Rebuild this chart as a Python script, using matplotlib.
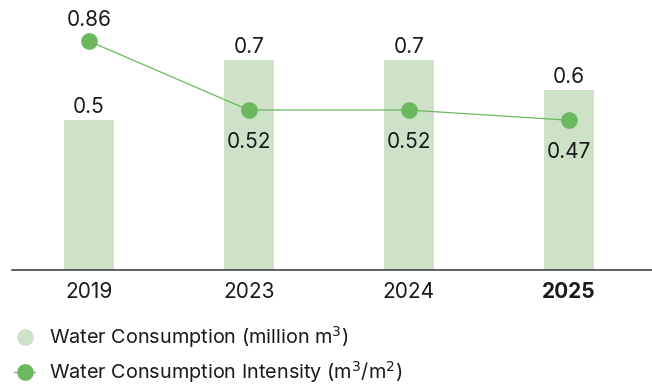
import matplotlib.pyplot as plt
from matplotlib.lines import Line2D

plt.rcParams['font.family'] = ['Inter', 'DejaVu Sans']

years = ['2019', '2023', '2024', '2025']
consumption = [0.5, 0.7, 0.7, 0.6]          # million m3
intensity = [0.86, 0.52, 0.52, 0.47]        # m3/m2

bar_color = '#cde2c6'
line_color = '#6bb85f'
text_color = '#1a1a1a'
fs = 15

fig = plt.figure(figsize=(6.52, 3.85), dpi=100)
ax = fig.add_axes([12 / 652, 1 - 270 / 385, 640 / 652, 260 / 385])

x = list(range(len(years)))
ax.bar(x, consumption, width=0.31, color=bar_color, zorder=1)
for xi, v in zip(x, consumption):
    ax.annotate(f'{v:g}', (xi, v), xytext=(0, 2), textcoords='offset points',
                ha='center', va='bottom', fontsize=fs, color=text_color)

ax.set_xlim(-0.48, 3.52)
ax.set_ylim(0, 260 / 300)
ax.set_yticks([])
for s in ['top', 'right', 'left']:
    ax.spines[s].set_visible(False)
ax.spines['bottom'].set_color('#444444')
ax.spines['bottom'].set_linewidth(1.2)
ax.set_xticks(x)
ax.set_xticklabels(years, fontsize=fs, color=text_color)
ax.tick_params(axis='x', length=0, pad=9)
ax.get_xticklabels()[-1].set_fontweight('bold')

# intensity on its own scale
ax2 = ax.twinx()
ax2.plot(x, intensity, color=line_color, lw=0.9, marker='o', ms=11, zorder=3)
ax2.set_ylim(-0.268, 1.013)
ax2.axis('off')
for i, (xi, v) in enumerate(zip(x, intensity)):
    if i == 0:
        ax2.annotate(f'{v:g}', (xi, v), xytext=(0, 8), textcoords='offset points',
                     ha='center', va='bottom', fontsize=fs, color=text_color)
    else:
        ax2.annotate(f'{v:g}', (xi, v), xytext=(0, -16), textcoords='offset points',
                     ha='center', va='top', fontsize=fs, color=text_color)

handles = [
    Line2D([], [], color=bar_color, marker='o', ms=11, lw=0),
    Line2D([], [], color=line_color, marker='o', ms=11, lw=0.9),
]
labels = ['Water Consumption (million m$^3$)',
          'Water Consumption Intensity (m$^3$/m$^2$)']
fig.legend(handles, labels, loc='upper left', bbox_to_anchor=(0.016, 1 - 320 / 385),
           frameon=False, fontsize=14.3, handlelength=1.05, handletextpad=0.7,
           labelspacing=0.47, borderaxespad=0, borderpad=0.2,
           labelcolor=text_color)

fig.savefig('out.png', dpi=100)
